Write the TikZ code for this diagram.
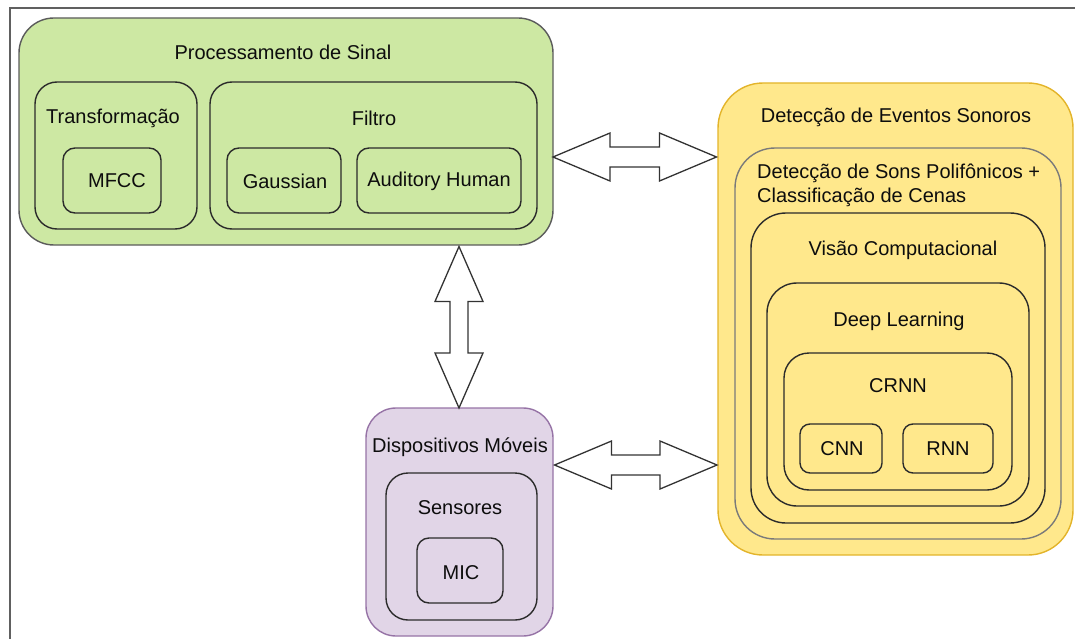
\documentclass[tikz,border=0pt]{standalone}
\usepackage{fontspec}
\setmainfont{Liberation Sans}
\usetikzlibrary{calc}

\definecolor{greenfill}{HTML}{CDE8A3}
\definecolor{greenline}{HTML}{5B5B5B}
\definecolor{purplefill}{HTML}{E1D5E7}
\definecolor{purpleline}{HTML}{9673A6}
\definecolor{yellowfill}{HTML}{FFE88C}
\definecolor{yellowline}{HTML}{E3B42A}
\definecolor{innerline}{HTML}{2B2B2B}
\definecolor{grayline}{HTML}{7A7A7A}
\definecolor{frameline}{HTML}{606060}

\tikzset{
  box/.style={draw=innerline, line width=1.4pt, inner sep=0pt, outer sep=0pt, rectangle},
  groupbox/.style={box, fill=greenfill, draw=greenline},
  devbox/.style={box, fill=purplefill, draw=purpleline},
  soundbox/.style={box, fill=yellowfill, draw=yellowline},
  polybox/.style={box, draw=grayline},
  txt/.style={inner sep=0pt, font=\fontsize{20}{24}\selectfont, text=black!95},
  bigarrow/.style={draw=black!80, line width=1.3pt, fill=white, line join=miter},
  frame/.style={draw=frameline, line width=1.8pt}
}

% double-headed block arrow between two tips on a horizontal line
\newcommand\harrow[2]{%
  \path[bigarrow] (#1) -- ($(#1)+(57,-24)$) -- ($(#1)+(57,-10)$)
    -- ($(#2)+(-57,-10)$) -- ($(#2)+(-57,-24)$) -- (#2)
    -- ($(#2)+(-57,24)$) -- ($(#2)+(-57,10)$)
    -- ($(#1)+(57,10)$) -- ($(#1)+(57,24)$) -- cycle;}
% double-headed block arrow between two tips on a vertical line
\newcommand\varrow[2]{%
  \path[bigarrow] (#1) -- ($(#1)+(-24,55)$) -- ($(#1)+(-9,55)$)
    -- ($(#2)+(-9,-55)$) -- ($(#2)+(-24,-55)$) -- (#2)
    -- ($(#2)+(24,-55)$) -- ($(#2)+(9,-55)$)
    -- ($(#1)+(9,55)$) -- ($(#1)+(24,55)$) -- cycle;}

\begin{document}
\begin{tikzpicture}[x=1pt, y=-1pt]
\useasboundingbox (0,0) rectangle (1075,639);

% outer frame
\draw[frame] (10,639) -- (10,8) -- (1075,8);

% signal processing group
\node[groupbox, rounded corners=35pt, minimum width=534pt, minimum height=227pt] (proc) at (286,131.5) {};
\node[box, rounded corners=22pt, minimum width=162pt, minimum height=147pt] (transf) at (116,155.5) {};
\node[box, rounded corners=12pt, minimum width=98pt, minimum height=65pt] (mfcc) at (112,180.5) {};
\node[box, rounded corners=22pt, minimum width=327pt, minimum height=147pt] (filtro) at (373.5,155.5) {};
\node[box, rounded corners=12pt, minimum width=114pt, minimum height=65pt] (gauss) at (284,180.5) {};
\node[box, rounded corners=12pt, minimum width=164pt, minimum height=65pt] (aud) at (439,180.5) {};

\node[txt] (procT) at (283,52) {Processamento de Sinal};
\node[txt] (transfT) at (113,118) {Transformação};
\node[txt] (filtroT) at (374,118) {Filtro};
\node[txt] (mfccT) at (117,181) {MFCC};
\node[txt] (gaussT) at (285,181) {Gaussian};
\node[txt] (audT) at (439,181) {Auditory Human};

% mobile devices group
\node[devbox, rounded corners=30pt, minimum width=187pt, minimum height=228pt] (disp) at (459.5,522) {};
\node[box, rounded corners=22pt, minimum width=151pt, minimum height=147pt] (sens) at (461.5,546.5) {};
\node[box, rounded corners=12pt, minimum width=86pt, minimum height=65pt] (mic) at (460,570.5) {};

\node[txt] (dispT) at (460,447) {Dispositivos Móveis};
\node[txt] (sensT) at (460,508) {Sensores};
\node[txt] (micT) at (461,573) {MIC};

% sound event detection group
\node[soundbox, rounded corners=45pt, minimum width=355pt, minimum height=472pt] (sed) at (895.5,319) {};
\node[polybox, rounded corners=40pt, minimum width=326pt, minimum height=391pt] (poly) at (898,343.5) {};
\node[box, rounded corners=35pt, minimum width=294pt, minimum height=310pt] (visao) at (898,368) {};
\node[box, rounded corners=30pt, minimum width=262pt, minimum height=223pt] (deep) at (898,394.5) {};
\node[box, rounded corners=25pt, minimum width=228pt, minimum height=137pt] (crnn) at (898,421.5) {};
\node[box, rounded corners=10pt, minimum width=82pt, minimum height=49pt] (cnn) at (841,448.5) {};
\node[box, rounded corners=10pt, minimum width=90pt, minimum height=49pt] (rnn) at (948,448.5) {};

\node[txt] (sedT) at (896,117) {Detecção de Eventos Sonoros};
\node[txt, anchor=west, align=left] (polyT) at (757,185)
  {Detecção de Sons Polifônicos +\\Classificação de Cenas};
\node[txt] (visaoT) at (903,250) {Visão Computacional};
\node[txt] (deepT) at (899,321) {Deep Learning};
\node[txt] (crnnT) at (898,386) {CRNN};
\node[txt] (cnnT) at (842,449) {CNN};
\node[txt] (rnnT) at (948,449) {RNN};

% connector end points on the group borders
\coordinate (a1) at (proc.east |- 0,157);
\coordinate (a2) at ([xshift=-1.5pt]sed.west |- 0,157);
\coordinate (b1) at ([yshift=-1.5pt]proc.south -| 459,0);
\coordinate (b2) at (disp.north -| 459,0);
\coordinate (c1) at ([xshift=1.5pt]disp.east |- 0,465);
\coordinate (c2) at ([xshift=-1pt]sed.west |- 0,465);

\harrow{a1}{a2}
\varrow{b1}{b2}
\harrow{c1}{c2}
\end{tikzpicture}
\end{document}
